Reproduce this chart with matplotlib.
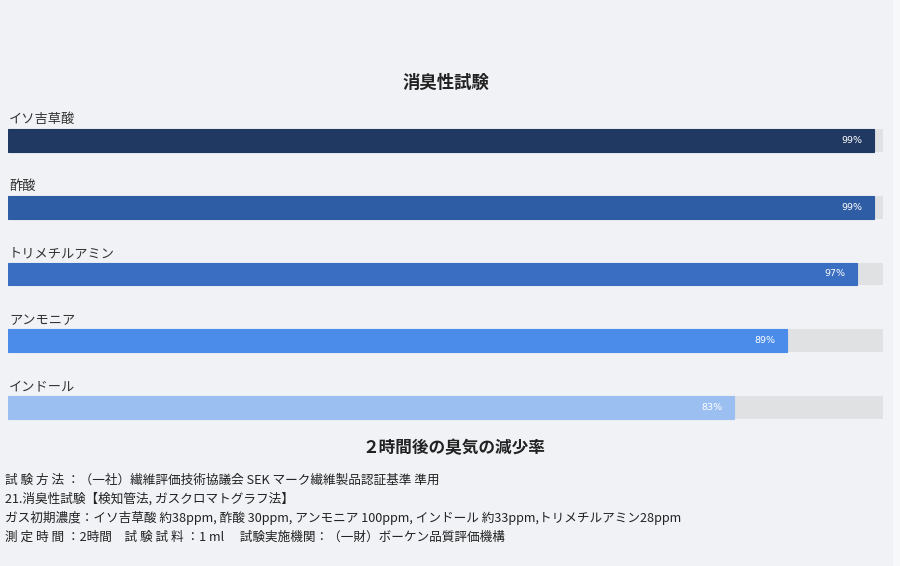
import matplotlib
matplotlib.use("Agg")
import matplotlib.pyplot as plt
from matplotlib.patches import Rectangle

plt.rcParams['font.family'] = ['Noto Sans CJK JP', 'DejaVu Sans']

# data
gases = ["イソ吉草酸", "酢酸", "トリメチルアミン", "アンモニア", "インドール"]
rates = [99, 99, 97, 89, 83]
colors = ["#1f3963", "#2e5da6", "#3a6ec2", "#4b8be9", "#9cbff1"]
title = "消臭性試験"
subtitle = "２時間後の臭気の減少率"
notes = [
    "試 験 方 法 ：（一社）繊維評価技術協議会 SEK マーク繊維製品認証基準 準用",
    "21.消臭性試験【検知管法, ガスクロマトグラフ法】",
    "ガス初期濃度：イソ吉草酸 約38ppm, 酢酸 30ppm, アンモニア 100ppm, インドール 約33ppm,トリメチルアミン28ppm",
    "測 定 時 間 ：2時間　試 験 試 料 ：1 ml　 試験実施機関：（一財）ボーケン品質評価機構",
]

W, H = 900, 566
fig = plt.figure(figsize=(W / 100, H / 100), dpi=100)
fig.patch.set_facecolor("#f0f2f5")
fig.patches.append(Rectangle((893 / W, 0), 7 / W, 1, transform=fig.transFigure,
                             facecolor="#f7f8fa", edgecolor="none"))

ax = fig.add_axes([8 / W, 1 - 441 / H, 875 / W, 334 / H])
ax.set_xlim(0, 100)
ax.set_ylim(len(gases) - 0.5, -0.5)
ax.axis("off")

ys = list(range(len(gases)))
ax.barh(ys, [100] * len(gases), height=23 / 67, color="#dfe1e3", edgecolor="none")
ax.barh(ys, rates, height=23 / 67, color=colors, edgecolor=colors, linewidth=0.8)

for y, name, v in zip(ys, gases, rates):
    ax.text(0.1, y - 0.31, name, ha="left", va="center", fontsize=9.5, color="#333333")
    ax.text(v - 1.3, y, f"{v}%", ha="right", va="center", fontsize=6.8,
            color="white", family="DejaVu Sans")

fig.text(446 / W, 1 - 83 / H, title, ha="center", va="center", fontsize=12.5,
         color="#222222", fontweight="bold")
fig.text(454 / W, 1 - 448 / H, subtitle, ha="center", va="center", fontsize=12,
         color="#222222", fontweight="bold")

for i, line in enumerate(notes):
    fig.text(5 / W, 1 - (480 + i * 19) / H, line, ha="left", va="center",
             fontsize=9.1, color="#222222")

fig.savefig("out.png", dpi=100, facecolor=fig.get_facecolor())
